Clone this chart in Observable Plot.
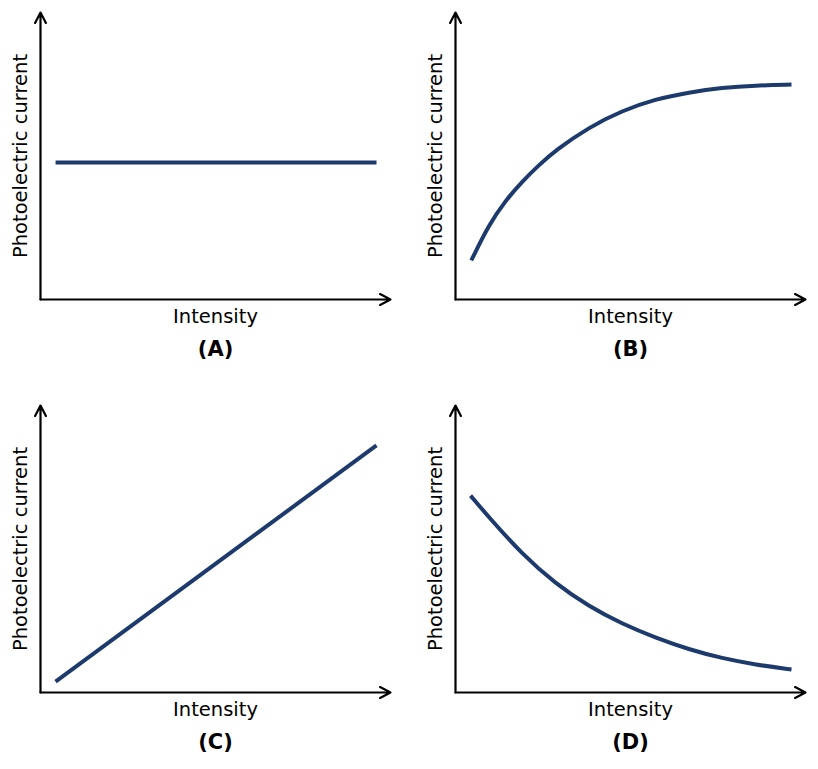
<!DOCTYPE html>
<html><head><meta charset="utf-8">
<script src="https://cdn.jsdelivr.net/npm/d3@7"></script>
<script src="https://cdn.jsdelivr.net/npm/@observablehq/plot@0.6"></script>
<style>
html,body{margin:0;padding:0;background:#fff;}
#chart{position:relative;width:818px;height:769px;font-family:"DejaVu Sans",sans-serif;}
#chart > div{position:absolute;}
</style></head><body><div id="chart"></div>
<script>
const panelLabels = ["(A)", "(B)", "(C)", "(D)"];
const xLabel = "Intensity";
const yLabel = "Photoelectric current";

const intensityA = [0.43, 9.6];
const currentA = [4.77, 4.77];

const intensityB = [0.45, 0.95, 1.43, 1.91, 2.38, 2.86, 3.81, 4.76, 5.71, 6.67, 7.62, 8.57, 9.6];
const currentB = [1.36, 2.6, 3.45, 4.12, 4.68, 5.2, 6.0, 6.58, 6.98, 7.22, 7.38, 7.46, 7.49];

const intensityC = [0.43, 9.6];
const currentC = [0.38, 8.61];

const intensityD = [0.43, 0.95, 1.91, 2.86, 3.81, 4.76, 5.71, 6.67, 7.62, 8.57, 9.6];
const currentD = [6.86, 6.11, 4.81, 3.79, 3.0, 2.39, 1.91, 1.50, 1.19, 0.97, 0.80];

const axisDomain = [0, 10];
const lineColor = "#1d3a6d";

const series = [
  [intensityA, currentA],
  [intensityB, currentB],
  [intensityC, currentC],
  [intensityD, currentD]
];
const lefts = [0, 415, 0, 415];
const tops = [0, 0, 393, 393];

const chart = document.getElementById("chart");
series.forEach(([xs, ys], i) => {
  const data = xs.map((x, j) => ({x, y: ys[j]}));
  const axes = [
    {x1: axisDomain[0], y1: axisDomain[0], x2: axisDomain[1], y2: axisDomain[0]},
    {x1: axisDomain[0], y1: axisDomain[0], x2: axisDomain[0], y2: axisDomain[1]}
  ];
  const plot = Plot.plot({
    width: 403,
    height: 376,
    marginLeft: 40,
    marginRight: 13,
    marginTop: 12,
    marginBottom: 77,
    x: {domain: axisDomain, axis: null},
    y: {domain: axisDomain, axis: null},
    style: {fontFamily: "DejaVu Sans", background: "white", overflow: "visible"},
    marks: [
      Plot.line(data, {x: "x", y: "y", stroke: lineColor, strokeWidth: 4, curve: "basis", strokeLinecap: "butt"}),
      Plot.arrow(axes, {x1: "x1", y1: "y1", x2: "x2", y2: "y2", stroke: "black", strokeWidth: 2.2, headLength: 8, headAngle: 55}),
      Plot.text([xLabel], {text: d => d, frameAnchor: "bottom", lineAnchor: "bottom", dy: 23.7, fontSize: 19.5, fill: "black"}),
      Plot.text([panelLabels[i]], {text: d => d, frameAnchor: "bottom", lineAnchor: "bottom", dy: 56, fontSize: 21, fontWeight: "bold", fill: "black"}),
      Plot.text([yLabel], {text: d => d, frameAnchor: "left", textAnchor: "middle", lineAnchor: "bottom", rotate: -90, dx: -14, fontSize: 19.5, fill: "black"})
    ]
  });
  const wrap = document.createElement("div");
  wrap.style.left = lefts[i] + "px";
  wrap.style.top = tops[i] + "px";
  wrap.appendChild(plot);
  chart.appendChild(wrap);
});
</script>
</body></html>
